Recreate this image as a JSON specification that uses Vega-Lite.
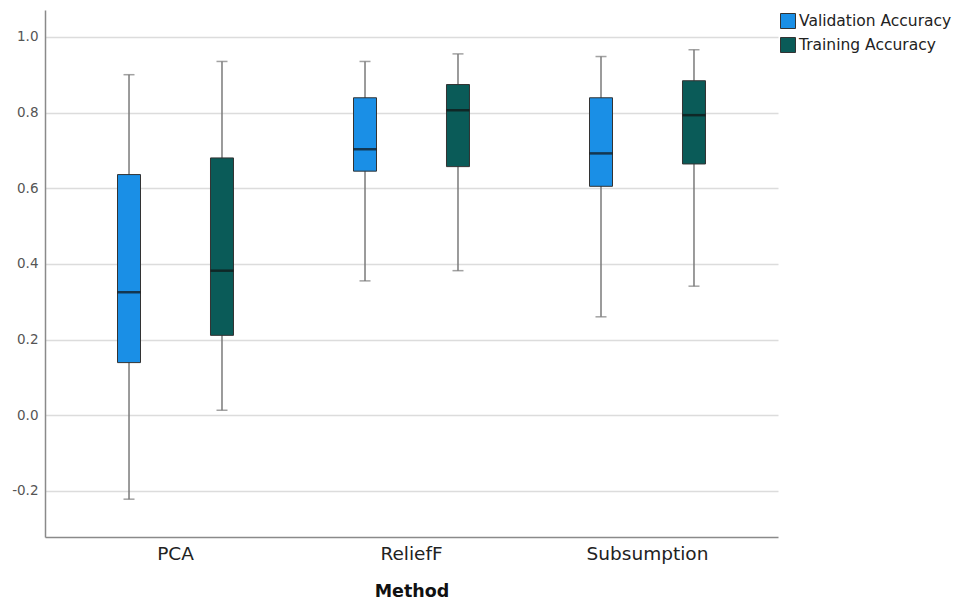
{
  "$schema": "https://vega.github.io/schema/vega-lite/v6.json",
  "width": 733,
  "height": 527,
  "autosize": {"type": "none"},
  "padding": {"left": 45, "top": 10, "right": 181, "bottom": 70},
  "background": "white",
  "config": {
    "view": {"stroke": null},
    "font": "DejaVu Sans"
  },
  "data": {
    "values": [
      {"method": "PCA", "series": "Validation Accuracy", "lo": -0.222, "q1": 0.139, "med": 0.325, "q3": 0.636, "hi": 0.900},
      {"method": "PCA", "series": "Training Accuracy", "lo": 0.013, "q1": 0.211, "med": 0.382, "q3": 0.680, "hi": 0.935},
      {"method": "ReliefF", "series": "Validation Accuracy", "lo": 0.355, "q1": 0.645, "med": 0.703, "q3": 0.839, "hi": 0.935},
      {"method": "ReliefF", "series": "Training Accuracy", "lo": 0.382, "q1": 0.657, "med": 0.806, "q3": 0.874, "hi": 0.955},
      {"method": "Subsumption", "series": "Validation Accuracy", "lo": 0.260, "q1": 0.605, "med": 0.692, "q3": 0.839, "hi": 0.948},
      {"method": "Subsumption", "series": "Training Accuracy", "lo": 0.341, "q1": 0.664, "med": 0.793, "q3": 0.884, "hi": 0.966}
    ]
  },
  "encoding": {
    "x": {
      "field": "method",
      "type": "nominal",
      "sort": ["PCA", "ReliefF", "Subsumption"],
      "scale": {"paddingInner": 0, "paddingOuter": 0.053},
      "axis": {
        "title": "Method",
        "labelAngle": 0,
        "labelFontSize": 18.5,
        "labelColor": "#222",
        "labelPadding": 7,
        "ticks": false,
        "domainColor": "#8a8a8a",
        "domainWidth": 1.5,
        "titleFontSize": 17.5,
        "titleFontWeight": "bold",
        "titleColor": "#111",
        "titlePadding": 20
      }
    },
    "xOffset": {
      "field": "series",
      "type": "nominal",
      "sort": ["Validation Accuracy", "Training Accuracy"],
      "scale": {"paddingInner": 0, "paddingOuter": 0.269}
    }
  },
  "layer": [
    {
      "mark": {"type": "rule", "color": "#7a7a7a", "strokeWidth": 1.5},
      "encoding": {
        "y": {
          "field": "lo",
          "type": "quantitative",
          "scale": {"domain": [-0.322, 1.071], "nice": false, "zero": false},
          "axis": {
            "title": null,
            "values": [-0.2, 0, 0.2, 0.4, 0.6, 0.8, 1.0],
            "format": ".1f",
            "labelExpr": "replace(datum.label, '\u2212', '-')",
            "grid": true,
            "gridColor": "#dcdcdc",
            "gridWidth": 1.5,
            "ticks": false,
            "domainColor": "#8a8a8a",
            "domainWidth": 1.5,
            "labelFontSize": 13.5,
            "labelColor": "#555",
            "labelPadding": 7
          }
        },
        "y2": {"field": "hi"}
      }
    },
    {
      "mark": {"type": "tick", "color": "#7a7a7a", "thickness": 1.5, "size": 11},
      "encoding": {"y": {"field": "lo", "type": "quantitative"}}
    },
    {
      "mark": {"type": "tick", "color": "#7a7a7a", "thickness": 1.5, "size": 11},
      "encoding": {"y": {"field": "hi", "type": "quantitative"}}
    },
    {
      "mark": {"type": "bar", "size": 23, "stroke": "#333", "strokeWidth": 1},
      "encoding": {
        "y": {"field": "q1", "type": "quantitative"},
        "y2": {"field": "q3"},
        "color": {
          "field": "series",
          "type": "nominal",
          "sort": ["Validation Accuracy", "Training Accuracy"],
          "scale": {"domain": ["Validation Accuracy", "Training Accuracy"], "range": ["#1a8fe6", "#0a5b58"]},
          "legend": {
            "title": null,
            "orient": "none",
            "legendX": 735,
            "legendY": 3,
            "symbolType": "square",
            "symbolSize": 225,
            "symbolStrokeColor": "#333",
            "symbolStrokeWidth": 1,
            "symbolOpacity": 1,
            "labelFontSize": 15.5,
            "labelColor": "#222",
            "labelOffset": 3,
            "rowPadding": 4,
            "padding": 0
          }
        }
      }
    },
    {
      "mark": {"type": "tick", "color": "#111", "thickness": 2.5, "size": 23},
      "encoding": {"y": {"field": "med", "type": "quantitative"}}
    }
  ]
}
